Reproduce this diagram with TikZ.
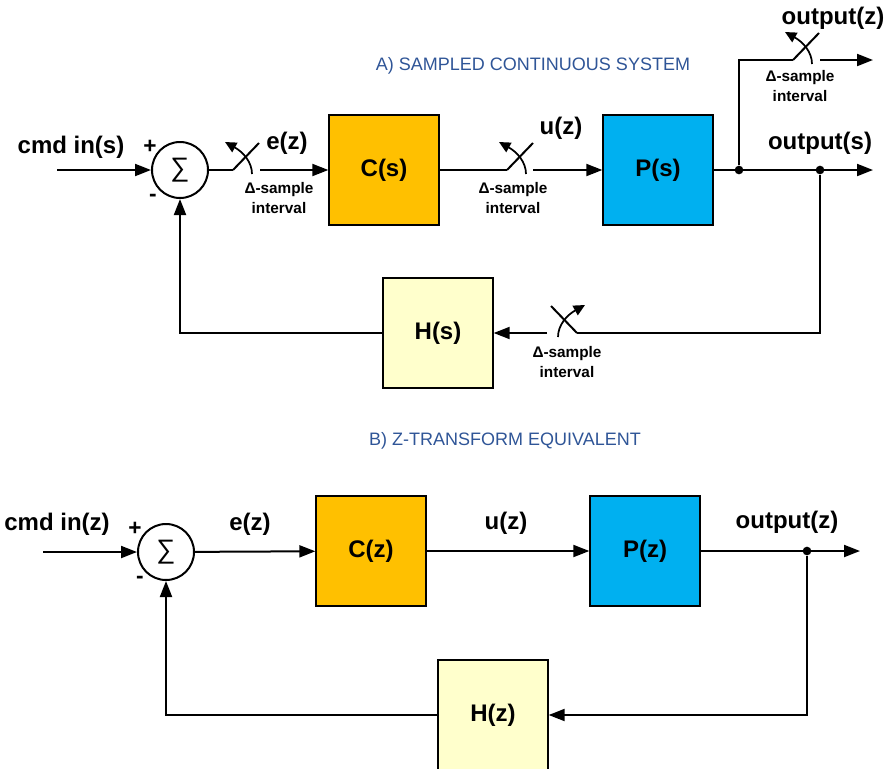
\documentclass[tikz,border=0pt]{standalone}
\usepackage{fontspec}
\setmainfont{Liberation Sans}
\usepackage{xcolor}
\usetikzlibrary{arrows.meta,positioning}
\definecolor{ttlblue}{RGB}{47,85,151}
\definecolor{corange}{RGB}{255,192,0}
\definecolor{pblue}{RGB}{0,176,240}
\definecolor{hyellow}{RGB}{255,255,204}
\tikzset{
  blk/.style   = {rectangle, draw=black, line width=1.5pt, minimum size=82pt,
                  inner sep=0pt, font=\bfseries\fontsize{18}{20}\selectfont},
  blkc/.style  = {blk, fill=corange},
  blkp/.style  = {blk, fill=pblue},
  blkh/.style  = {blk, fill=hyellow},
  sumn/.style  = {circle, draw=black, line width=1.5pt, minimum size=42pt,
                  inner sep=0pt, font=\fontsize{20}{20}\selectfont},
  lbl/.style   = {inner sep=0pt, font=\bfseries\fontsize{18}{20}\selectfont},
  smp/.style   = {inner sep=0pt, align=center, font=\bfseries\fontsize{11.5}{15}\selectfont},
  sgn/.style   = {inner sep=0pt, font=\bfseries\fontsize{17}{17}\selectfont},
  ttl/.style   = {inner sep=0pt, text=ttlblue, font=\fontsize{13.5}{16}\selectfont},
  ln/.style    = {line width=1.5pt, black},
  fl/.style    = {ln, -{Triangle[length=12pt,width=9pt]}},
  swa/.style   = {line width=1.3pt, black, -{Triangle[length=8.5pt,width=8pt]}},
  tap/.style   = {circle, fill=black, inner sep=0pt, minimum size=6.5pt},
  pics/sampler/.style = {code={
    \draw[ln] (0,0) -- (26,-27);
    \draw[swa] (19,4) .. controls (19,-8) and (10,-18) .. (-8,-28);
  }},
}
\begin{document}
\begin{tikzpicture}[x=0.75pt, y=-0.75pt, node distance=122pt]
  \useasboundingbox (0,0) rectangle (888,768);
  % A) sampled continuous system
  \node[ttl] (ttlA) at (533,66) {A) SAMPLED CONTINUOUS SYSTEM};
  \node[sumn] (sumA) at (180,170) {∑};
  \node[blkc] (Cs) at (384,170) {C(s)};
  \node[blkp, right=of Cs] (Ps) {P(s)};
  \node[blkh] (Hs) at (438,333) {H(s)};
  \coordinate (inS) at (57,170);
  \coordinate (swA) at (233,170);
  \coordinate (swAo) at (260,170);
  \coordinate (swB) at (507,170);
  \coordinate (swBo) at (533,170);
  \coordinate (swC) at (793,60);
  \coordinate (swCo) at (820,60);
  \coordinate (endZ) at (873,60);
  \coordinate (endS) at (873,170);
  \coordinate (swD) at (577,333);
  \coordinate (swDo) at (547,333);
  \node[tap] (tapA) at (739,170) {};
  \node[tap] (tapB) at (820,170) {};
  \node[lbl] (cmdS) at (71,147) {cmd in(s)};
  \node[sgn] (plA) at (150,147) {+};
  \node[sgn] (miA) at (153,198) {-};
  \node[lbl] (eS) at (287,143) {e(z)};
  \node[lbl] (uS) at (561,128) {u(z)};
  \node[lbl] (oZ) at (833,18) {output(z)};
  \node[lbl] (oS) at (820,143) {output(s)};
  \node[smp] (smA) at (279,198) {Δ-sample\\ interval};
  \node[smp] (smB) at (513,198) {Δ-sample\\ interval};
  \node[smp] (smC) at (800,86) {Δ-sample\\ interval};
  \node[smp] (smD) at (567,362) {Δ-sample\\ interval};
  \pic at (swA) {sampler};
  \pic at (swB) {sampler};
  \pic at (swC) {sampler};
  \pic[xscale=-1] at (swD) {sampler};
  \draw[fl] (inS) -- (sumA);
  \draw[ln] (sumA) -- (swA);
  \draw[fl] (swAo) -- (Cs);
  \draw[ln] (Cs) -- (swB);
  \draw[fl] (swBo) -- (Ps);
  \draw[fl] (Ps) -- (endS);
  \draw[ln] (tapA) |- (swC);
  \draw[fl] (swCo) -- (endZ);
  \draw[ln] (tapB) |- (swD);
  \draw[fl] (swDo) -- (Hs);
  \draw[fl] (Hs) -| (sumA);
  % B) z-transform equivalent
  \node[ttl] (ttlB) at (505,441) {B) Z-TRANSFORM EQUIVALENT};
  \node[sumn] (sumB) at (166,552) {∑};
  \node[blkc] (Cz) at (371,551) {C(z)};
  \node[blkp, right=of Cz] (Pz) {P(z)};
  \node[blkh] (Hz) at (493,715) {H(z)};
  \coordinate (inZ) at (43,552);
  \coordinate (endB) at (860,551);
  \node[tap] (tapZ) at (807,551) {};
  \node[lbl] (cmdZ) at (57,524) {cmd in(z)};
  \node[sgn] (plB) at (135,529) {+};
  \node[sgn] (miB) at (140,580) {-};
  \node[lbl] (eZ) at (250,524) {e(z)};
  \node[lbl] (uZ) at (506,523) {u(z)};
  \node[lbl] (oZb) at (787,522) {output(z)};
  \draw[fl] (inZ) -- (sumB);
  \draw[fl] (sumB) -- (Cz);
  \draw[fl] (Cz) -- (Pz);
  \draw[fl] (Pz) -- (endB);
  \draw[fl] (tapZ) |- (Hz);
  \draw[fl] (Hz) -| (sumB);
\end{tikzpicture}
\end{document}
